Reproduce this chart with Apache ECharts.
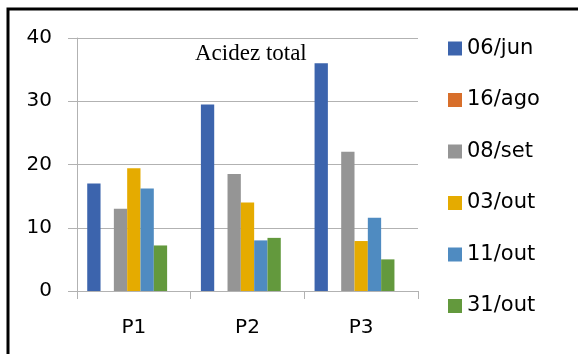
<!DOCTYPE html>
<html>
<head>
<meta charset="utf-8">
<script src="https://cdn.jsdelivr.net/npm/echarts@6/dist/echarts.min.js"></script>
<style>
  html, body { margin: 0; padding: 0; background: #fff; }
  #chart { width: 578px; height: 354px; }
</style>
</head>
<body>
<div id="chart"></div>
<script>
// Sampling points and collection dates
const categories = ['P1', 'P2', 'P3'];
const seriesNames = ['06/jun', '16/ago', '08/set', '03/out', '11/out', '31/out'];

// Total acidity per collection date
const jun06 = [17, 29.5, 36];
const ago16 = [null, null, null];
const set08 = [13, 18.5, 22];
const out03 = [19.4, 14, 7.9];
const out11 = [16.2, 8, 11.6];
const out31 = [7.2, 8.4, 5];

const yTicks = { min: 0, max: 40, interval: 10 };

const colors = ['#3c64ad', '#d86f2b', '#959595', '#e5ab00', '#4f8bc1', '#63993d'];
const values = [jun06, ago16, set08, out03, out11, out31];

const chart = echarts.init(document.getElementById('chart'));

const series = seriesNames.map((name, i) => ({
  name: name,
  type: 'bar',
  data: values[i],
  itemStyle: { color: colors[i] },
  barGap: '0%',
  barCategoryGap: '18%'
}));
// empty trailing slot in each category group
series.push({
  name: 'slot',
  type: 'bar',
  data: [null, null, null],
  barGap: '0%',
  barCategoryGap: '18%'
});

const gray = '#b2b2b2';

chart.setOption({
  animation: false,
  color: colors,
  title: {
    text: 'Acidez total',
    left: 190,
    top: 37,
    textStyle: {
      fontFamily: 'Liberation Serif',
      fontSize: 23,
      fontWeight: 'normal',
      color: '#000'
    }
  },
  legend: {
    orient: 'vertical',
    left: 448,
    top: 38,
    padding: 0,
    data: seriesNames,
    icon: 'rect',
    itemWidth: 14,
    itemHeight: 14,
    itemGap: 30.5,
    textStyle: {
      fontFamily: 'DejaVu Sans',
      fontSize: 21,
      color: '#000'
    }
  },
  grid: { left: 77, right: 160, top: 38, bottom: 63, containLabel: false },
  xAxis: {
    type: 'category',
    data: categories,
    axisLine: { show: true, lineStyle: { color: gray, width: 1 } },
    axisTick: { show: true, length: 8, lineStyle: { color: gray } },
    axisLabel: {
      fontFamily: 'DejaVu Sans',
      fontSize: 20,
      color: '#000',
      margin: 27
    }
  },
  yAxis: {
    type: 'value',
    min: yTicks.min,
    max: yTicks.max,
    interval: yTicks.interval,
    axisLine: { show: true, lineStyle: { color: gray, width: 1 } },
    axisTick: { show: true, length: 9, lineStyle: { color: gray } },
    splitLine: { show: true, lineStyle: { color: gray, width: 1 } },
    axisLabel: {
      fontFamily: 'DejaVu Sans',
      fontSize: 20,
      color: '#000',
      margin: 25
    }
  },
  graphic: [{
    type: 'rect',
    shape: { x: 8, y: 9, width: 640, height: 420 },
    style: { fill: 'none', stroke: '#000', lineWidth: 3 },
    silent: true,
    z: 100
  }],
  series: series
});
</script>
</body>
</html>
